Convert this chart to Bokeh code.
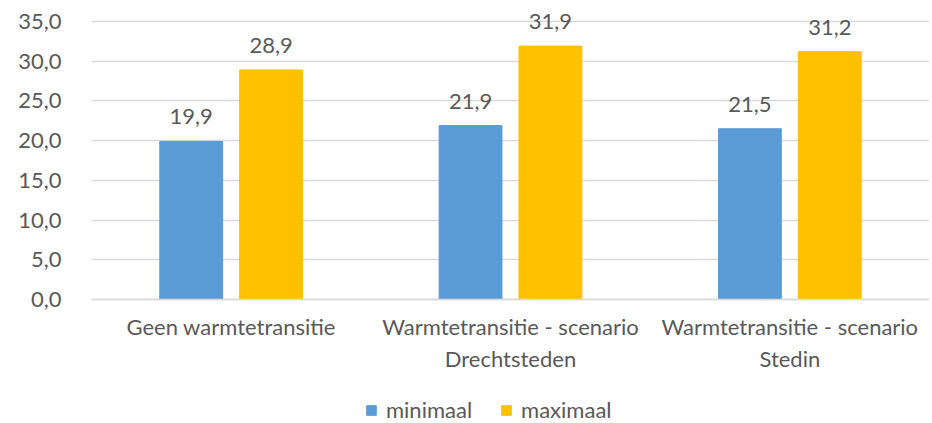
from bokeh.plotting import figure
from bokeh.models import ColumnDataSource, FixedTicker, Legend, LegendItem, LabelSet
from bokeh.core.properties import value
from bokeh.embed import file_html
from bokeh.resources import INLINE

categories = ["Geen warmtetransitie", "Warmtetransitie - scenario\nDrechtsteden", "Warmtetransitie - scenario\nStedin"]
minimaal = [19.9, 21.9, 21.5]
maximaal = [28.9, 31.9, 31.2]
series_names = ["minimaal", "maximaal"]
y_ticks = [0, 5, 10, 15, 20, 25, 30, 35]

FONT = "Lato"
FS = "22px"
TXT = "#595959"
BLUE = "#5B9BD5"
GOLD = "#FFC000"

xs = list(range(len(categories)))
off = 0.143
bw = 0.225

# layout: value axis 0..35 spans 278 px; the frame continues 21 px above 35
# (room for data labels) and 124 px below 0 (category labels and legend)
Y_MAX = 35
PX_PER_UNIT = 278 / Y_MAX
Y_LOW = -124 / PX_PER_UNIT
Y_HIGH = Y_MAX + 21 / PX_PER_UNIT

src_min = ColumnDataSource(dict(x=[i - off for i in xs], top=minimaal,
                                lab=[f"{v:.1f}".replace(".", ",") for v in minimaal]))
src_max = ColumnDataSource(dict(x=[i + off for i in xs], top=maximaal,
                                lab=[f"{v:.1f}".replace(".", ",") for v in maximaal]))

p = figure(frame_width=838, frame_height=423, output_backend="svg", toolbar_location=None,
           x_range=(-0.5, 2.5), y_range=(Y_LOW, Y_HIGH),
           min_border_left=91, min_border_right=0, min_border_top=0, min_border_bottom=0)
p.outline_line_color = None
p.background_fill_color = "white"

r1 = p.vbar(x="x", top="top", bottom=0, width=bw, source=src_min, color=BLUE)
r2 = p.vbar(x="x", top="top", bottom=0, width=bw, source=src_max, color=GOLD)

for s in (src_min, src_max):
    p.add_layout(LabelSet(x="x", y="top", text="lab", source=s, text_align="center",
                          text_baseline="bottom", y_offset=17, text_font=value(FONT),
                          text_font_size=value(FS), text_color=TXT))

p.yaxis.ticker = FixedTicker(ticks=y_ticks)
p.yaxis.major_label_overrides = {t: f"{t:.1f}".replace(".", ",") for t in y_ticks}
p.yaxis.axis_line_color = None
p.yaxis.major_tick_line_color = None
p.yaxis.minor_tick_line_color = None
p.yaxis.major_label_text_font = FONT
p.yaxis.major_label_text_font_size = FS
p.yaxis.major_label_text_color = TXT
p.yaxis.major_label_standoff = 24

p.xaxis.fixed_location = 0
p.xaxis.ticker = FixedTicker(ticks=xs)
p.xaxis.major_label_overrides = {i: c for i, c in zip(xs, categories)}
p.xaxis.axis_line_color = "#D9D9D9"
p.xaxis.axis_line_width = 1.5
p.xaxis.major_tick_line_color = None
p.xaxis.minor_tick_line_color = None
p.xaxis.major_label_text_font = FONT
p.xaxis.major_label_text_font_size = FS
p.xaxis.major_label_text_color = TXT
p.xaxis.major_label_standoff = 7

p.xgrid.grid_line_color = None
p.ygrid.grid_line_color = "#D9D9D9"
p.ygrid.grid_line_width = 1.5

legend = Legend(items=[LegendItem(label=series_names[0], renderers=[r1]),
                       LegendItem(label=series_names[1], renderers=[r2])],
                orientation="horizontal", location=(274, 0),
                label_text_font=FONT, label_text_font_size=FS, label_text_color=TXT,
                glyph_width=12, glyph_height=12, spacing=28, label_standoff=9,
                border_line_color=None, background_fill_alpha=0, margin=0, padding=0)
p.add_layout(legend, "center")

open("out.html", "w").write(file_html(p, INLINE))
